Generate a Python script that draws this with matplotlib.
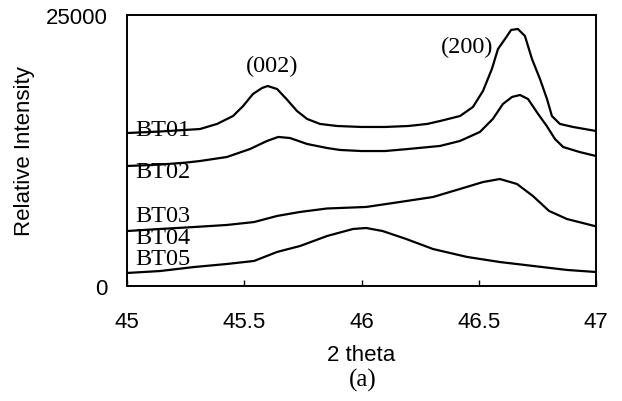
import numpy as np
import matplotlib
matplotlib.use("Agg")
from matplotlib import pyplot as plt

# XRD scans (2 theta, relative intensity)
bt01_x = [45.0, 45.14, 45.25, 45.311, 45.384, 45.452, 45.495, 45.537, 45.576, 45.60, 45.64,
          45.68, 45.725, 45.768, 45.823, 45.896, 46.0, 46.1, 46.2, 46.28, 46.335, 46.42,
          46.475, 46.518, 46.556, 46.582, 46.612, 46.638, 46.667, 46.697, 46.727, 46.761,
          46.791, 46.812, 46.846, 46.902, 47.0]
bt01_y = [14110, 14250, 14400, 14480, 14950, 15680, 16600, 17710, 18270, 18450, 18170,
          17250, 16140, 15410, 14950, 14760, 14670, 14670, 14760, 14950, 15220, 15680,
          16510, 17990, 20020, 21860, 22790, 23620, 23710, 23060, 20940, 19100,
          17250, 15680, 14950, 14670, 14300]

bt02_x = [45.0, 45.14, 45.25, 45.311, 45.426, 45.525, 45.597, 45.645, 45.695, 45.768, 45.853,
          45.908, 46.0, 46.1, 46.2, 46.335, 46.42, 46.505, 46.56, 46.603, 46.642, 46.676,
          46.71, 46.753, 46.79, 46.825, 46.86, 46.93, 47.0]
bt02_y = [11070, 11200, 11380, 11530, 11900, 12640, 13380, 13750, 13650, 13100, 12730,
          12550, 12450, 12450, 12640, 12920, 13380, 14210, 15410, 16790, 17440, 17620,
          17250, 15870, 14760, 13560, 12820, 12360, 11990]

bt03_x = [45.0, 45.141, 45.286, 45.426, 45.542, 45.64, 45.738, 45.853, 46.02, 46.164, 46.305,
          46.42, 46.518, 46.59, 46.663, 46.731, 46.80, 46.876, 47.0]
bt03_y = [5070, 5260, 5440, 5630, 5900, 6460, 6830, 7150, 7290, 7750, 8210,
          8950, 9590, 9870, 9410, 8300, 6920, 6180, 5500]

bt05_x = [45.0, 45.141, 45.286, 45.426, 45.542, 45.64, 45.738, 45.853, 45.964, 46.02, 46.09,
          46.19, 46.305, 46.45, 46.59, 46.731, 46.876, 47.0]
bt05_y = [1200, 1380, 1750, 2030, 2310, 3140, 3690, 4610, 5260, 5350, 5070,
          4340, 3410, 2680, 2210, 1850, 1480, 1290]

sample_labels = ["BT01", "BT02", "BT03", "BT04", "BT05"]
label_y = [14480, 10520, 6460, 4430, 2490]

peak_labels = ["(002)", "(200)"]
peak_x = [45.618, 46.45]
peak_y = [20300, 22140]

fig = plt.figure(figsize=(6.22, 4.02), dpi=100)
ax = fig.add_axes([0.2042, 0.2861, 0.754, 0.6741])

for xs, ys in [(bt01_x, bt01_y), (bt02_x, bt02_y), (bt03_x, bt03_y), (bt05_x, bt05_y)]:
    ax.plot(xs, ys, color="black", lw=1.6, solid_joinstyle="round")

for lab, yy in zip(sample_labels, label_y):
    ax.text(45.035, yy, lab, family="Liberation Serif", fontsize=17.5, va="center", ha="left")

for lab, xx, yy in zip(peak_labels, peak_x, peak_y):
    ax.text(xx, yy, lab, family="Liberation Serif", fontsize=17.5, va="center", ha="center")

ax.set_xlim(45, 47)
ax.set_ylim(0, 25000)
ax.set_xticks([45, 45.5, 46, 46.5, 47])
ax.set_xticklabels(["45", "45.5", "46", "46.5", "47"])
ax.set_yticks([0, 25000])
ax.tick_params(axis="x", direction="in", length=4, width=1, pad=18, labelsize=16)
ax.tick_params(axis="y", length=0, pad=14, labelsize=16)
for lbl in ax.get_xticklabels() + ax.get_yticklabels():
    lbl.set_family("Liberation Sans")
for s in ax.spines.values():
    s.set_linewidth(1.4)

ax.set_xlabel("2 theta", family="Liberation Sans", fontsize=16, labelpad=9)
ax.set_ylabel("Relative Intensity", family="Liberation Sans", fontsize=16, labelpad=8)
fig.text(363 / 622, 1 - 380 / 402, "(a)", family="Liberation Serif", fontsize=18,
         ha="center", va="center")

fig.savefig("out.png", dpi=100)
